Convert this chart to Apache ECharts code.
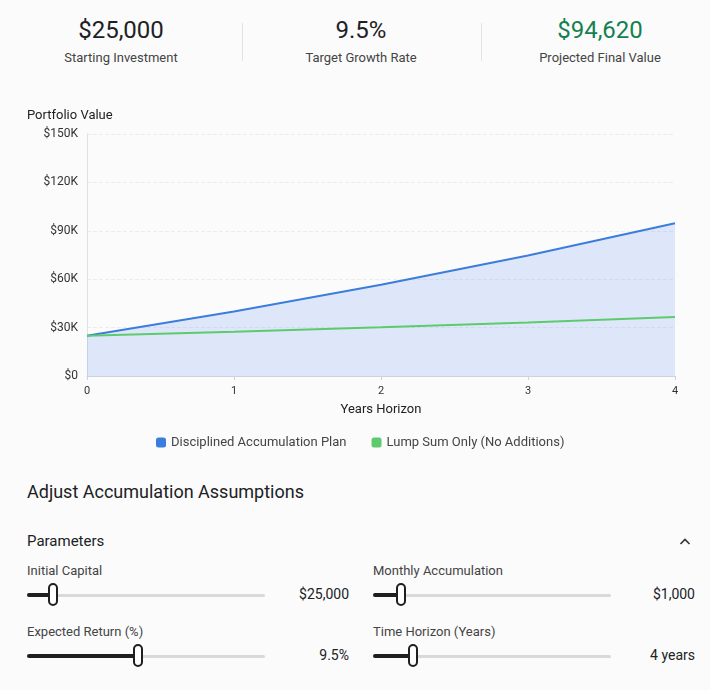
<!DOCTYPE html>
<html>
<head>
<meta charset="utf-8">
<script src="https://cdn.jsdelivr.net/npm/echarts@6/dist/echarts.min.js"></script>
<style>
  html, body { margin:0; padding:0; background:#fbfbfb; width:710px; height:690px; overflow:hidden;
    font-family: Roboto, "Noto Sans", sans-serif; color:#202124; }
  .abs { position:absolute; }
  .stat { position:absolute; width:240px; text-align:center; }
  .stat .big { font-size:24px; line-height:28px; color:#202124; }
  .stat .lab { font-size:13px; line-height:16px; color:#444; margin-top:6px; }
  .sep { position:absolute; width:1px; height:38px; top:23px; background:#e3e3e3; }
  #chart { position:absolute; left:0; top:100px; width:710px; height:360px; }
  .h2 { position:absolute; left:27px; top:481px; font-size:18px; color:#202124; }
  .h3 { position:absolute; left:27px; top:532px; font-size:15px; color:#202124; }
  .lbl { position:absolute; font-size:13px; color:#444; }
  .val { position:absolute; font-size:14px; color:#202124; text-align:right; width:100px; }
  .track { position:absolute; height:3px; background:#d9d9d9; border-radius:2px; }
  .fill { position:absolute; height:4px; background:#1f1f1f; border-radius:2px; }
  .thumb { position:absolute; width:6px; height:19px; border:2.5px solid #1f1f1f; background:#fff; border-radius:5px; }
</style>
</head>
<body>
<div id="stats"></div>
<div id="chart"></div>
<div class="h2">Adjust Accumulation Assumptions</div>
<div class="h3">Parameters</div>
<svg class="abs" style="left:679px;top:537px" width="12" height="9" viewBox="0 0 12 9"><path d="M1.5 7 L6 2.5 L10.5 7" fill="none" stroke="#333" stroke-width="1.6"/></svg>
<div id="sliders"></div>
<script>
// ---- data ----
const statValues = ['$25,000', '9.5%', '$94,620'];
const statLabels = ['Starting Investment', 'Target Growth Rate', 'Projected Final Value'];
const years = [0, 1, 2, 3, 4];
const planValues = [25000, 40018, 56533, 74658, 94620];
const lumpValues = [25000, 27481, 30209, 33208, 36504];
const seriesNames = ['Disciplined Accumulation Plan', 'Lump Sum Only (No Additions)'];
const yTicks = [0, 30000, 60000, 90000, 120000, 150000];
const sliderLabels = ['Initial Capital', 'Monthly Accumulation', 'Expected Return (%)', 'Time Horizon (Years)'];
const sliderValues = ['$25,000', '$1,000', '9.5%', '4 years'];
const sliderFractions = [0.11, 0.12, 0.47, 0.17];

// ---- stats row ----
const statsEl = document.getElementById('stats');
const centers = [121, 361, 600];
statValues.forEach((v, i) => {
  const d = document.createElement('div');
  d.className = 'stat';
  d.style.left = (centers[i] - 120) + 'px';
  d.style.top = '16px';
  d.innerHTML = '<div class="big" style="color:' + (i === 2 ? '#167f52' : '#202124') + '">' + v +
    '</div><div class="lab">' + statLabels[i] + '</div>';
  statsEl.appendChild(d);
});
[242, 481].forEach(x => {
  const s = document.createElement('div'); s.className = 'sep'; s.style.left = x + 'px'; statsEl.appendChild(s);
});

// ---- sliders ----
const slEl = document.getElementById('sliders');
const cols = [{x:27, valRight:349}, {x:373, valRight:695}];
const rows = [{label:563, track:595}, {label:624, track:656}];
sliderLabels.forEach((lab, i) => {
  const c = cols[i % 2], r = rows[Math.floor(i / 2)];
  const w = 238;
  const tx = c.x + w * sliderFractions[i];
  slEl.insertAdjacentHTML('beforeend',
    '<div class="lbl" style="left:' + c.x + 'px;top:' + r.label + 'px">' + lab + '</div>' +
    '<div class="track" style="left:' + c.x + 'px;top:' + (r.track - 1.5) + 'px;width:' + w + 'px"></div>' +
    '<div class="fill" style="left:' + c.x + 'px;top:' + (r.track - 2) + 'px;width:' + (tx - c.x) + 'px"></div>' +
    '<div class="thumb" style="left:' + (tx - 5.5) + 'px;top:' + (r.track - 12) + 'px"></div>' +
    '<div class="val" style="left:' + (c.valRight - 100) + 'px;top:' + (r.track - 9) + 'px">' + sliderValues[i] + '</div>');
});

// ---- chart ----
const chart = echarts.init(document.getElementById('chart'));
const fmt = v => v === 0 ? '$0' : '$' + (v / 1000) + 'K';
chart.setOption({
  animation: false,
  textStyle: { fontFamily: 'Roboto, "Noto Sans", sans-serif' },
  title: { text: 'Portfolio Value', left: 22, top: 4,
    textStyle: { fontSize: 13, fontWeight: 'normal', color: '#202124' } },
  grid: { left: 87, right: 35, top: 34, bottom: 84 },
  legend: {
    bottom: 6, left: 151, icon: 'roundRect', itemWidth: 10, itemHeight: 10, itemGap: 25,
    textStyle: { fontSize: 13, color: '#444' },
    data: seriesNames
  },
  xAxis: {
    type: 'value', min: 0, max: 4, interval: 1,
    name: 'Years Horizon', nameLocation: 'middle', nameGap: 27,
    nameTextStyle: { fontSize: 13, color: '#202124' },
    axisLine: { lineStyle: { color: '#ccd3dc' } },
    axisTick: { show: true, length: 4, lineStyle: { color: '#ccd3dc' } },
    axisLabel: { fontSize: 11, color: '#333', margin: 10 },
    splitLine: { show: false }
  },
  yAxis: {
    type: 'value', min: yTicks[0], max: yTicks[yTicks.length - 1], interval: yTicks[1] - yTicks[0],
    axisLine: { show: true, lineStyle: { color: '#dde2e8' } },
    axisTick: { show: false },
    axisLabel: { fontSize: 12, color: '#333', margin: 9, formatter: fmt },
    splitLine: { lineStyle: { color: '#ececec', type: 'dashed' } }
  },
  series: [
    {
      name: seriesNames[0], type: 'line', symbol: 'none',
      data: years.map((x, i) => [x, planValues[i]]),
      lineStyle: { color: '#3b7ddd', width: 2 },
      itemStyle: { color: '#3b7ddd' },
      areaStyle: { color: 'rgba(59,125,240,0.22)' },
      z: 2
    },
    {
      name: seriesNames[1], type: 'line', symbol: 'none',
      data: years.map((x, i) => [x, lumpValues[i]]),
      lineStyle: { color: '#5dcb6d', width: 2 },
      itemStyle: { color: '#5dcb6d' },
      z: 3
    }
  ]
});
</script>
</body>
</html>
